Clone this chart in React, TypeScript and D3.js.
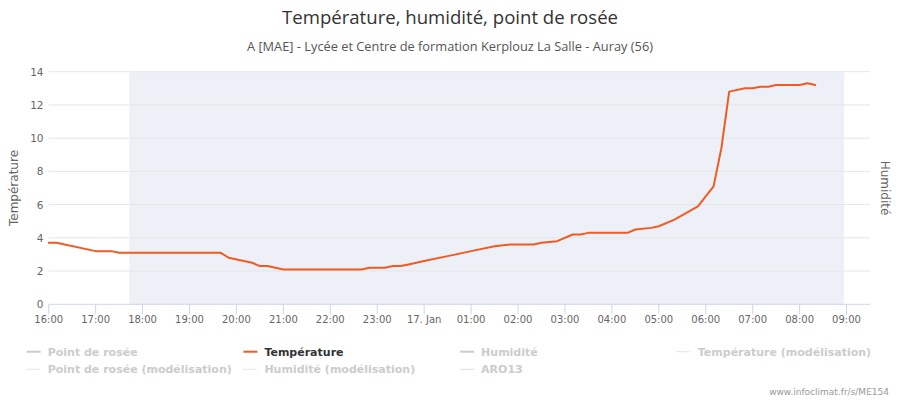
import React from "react";
import * as d3 from "d3";

const title = "Température, humidité, point de rosée";
const subtitle = "A [MAE] - Lycée et Centre de formation Kerplouz La Salle - Auray (56)";
const credit = "www.infoclimat.fr/s/ME154";

const times = [
  "16:00", "16:10", "17:00", "17:20", "17:30", "19:40", "19:50", "20:20", "20:30", "20:40",
  "21:00", "22:40", "22:50", "23:10", "23:20", "23:30", "23:40", "23:50", "00:00", "00:30",
  "01:00", "01:30", "01:50", "02:20", "02:30", "02:50", "03:10", "03:20", "03:30", "04:20",
  "04:30", "04:50", "05:00", "05:20", "05:50", "06:10", "06:20", "06:30", "06:50", "07:00",
  "07:10", "07:20", "07:30", "08:00", "08:10", "08:20",
];
const temperature = [
  3.7, 3.7, 3.2, 3.2, 3.1, 3.1, 2.8, 2.5, 2.3, 2.3,
  2.1, 2.1, 2.2, 2.2, 2.3, 2.3, 2.4, 2.5, 2.6, 2.9,
  3.2, 3.5, 3.6, 3.6, 3.7, 3.8, 4.2, 4.2, 4.3, 4.3,
  4.5, 4.6, 4.7, 5.1, 5.9, 7.1, 9.4, 12.8, 13.0, 13.0,
  13.1, 13.1, 13.2, 13.2, 13.3, 13.2,
];
const axisStart = "16:00";
const axisEnd = "09:30";
const nightStart = "17:43";
const nightEnd = "08:57";
const yTicks = [0, 2, 4, 6, 8, 10, 12, 14];

const legendItems = [
  { name: "Point de rosée", kind: "solid", visible: false },
  { name: "Température", kind: "solid", visible: true },
  { name: "Humidité", kind: "solid", visible: false },
  { name: "Température (modélisation)", kind: "dotted", visible: false },
  { name: "Point de rosée (modélisation)", kind: "dotted", visible: false },
  { name: "Humidité (modélisation)", kind: "dotted", visible: false },
  { name: "ARO13", kind: "thin", visible: false },
];

function toDate(s: string): Date {
  const [h, m] = s.split(":").map(Number);
  const day = h < 16 ? 17 : 16;
  return new Date(Date.UTC(2025, 0, day, h, m));
}

const W = 900;
const H = 400;
const left = 48.7;
const right = 870;
const top = 71.7;
const bottom = 304.3;
const LINE = "#f15a22";
const FONT = "'DejaVu Sans', sans-serif";

export default function App() {
  const x = d3.scaleUtc().domain([toDate(axisStart), toDate(axisEnd)]).range([left, right]);
  const y = d3.scaleLinear().domain([0, 14]).range([bottom, top]);
  const pts = times.map((t, i) => ({ t: toDate(t), v: temperature[i] }));
  const line = d3.line<{ t: Date; v: number }>().x((d) => x(d.t)).y((d) => y(d.v));
  const xTicks = x.ticks(d3.utcHour.every(1)!).filter((d) => x(d) <= right - 10);
  const fmt = (d: Date) => (d.getUTCHours() === 0 ? d3.utcFormat("%-d. %b")(d) : d3.utcFormat("%H:%M")(d));

  const colW = 216.7;
  return (
    <svg width={W} height={H} style={{ display: "block", position: "absolute", left: 0, top: 0 }}>
      <rect x={0} y={0} width={W} height={H} fill="#fff" />
      <text x={450} y={24} textAnchor="middle" fontFamily="'Open Sans', sans-serif" fontSize={18} fill="#333" textLength={336} lengthAdjust="spacingAndGlyphs">{title}</text>
      <text x={450} y={51} textAnchor="middle" fontFamily="'Open Sans', sans-serif" fontSize={12} fill="#555" textLength={406} lengthAdjust="spacingAndGlyphs">{subtitle}</text>

      <rect x={x(toDate(nightStart))} y={top} width={x(toDate(nightEnd)) - x(toDate(nightStart))} height={bottom - top} fill="#edf0f7" />

      {yTicks.filter((v) => v > 0).map((v) => (
        <line key={v} x1={left} x2={right} y1={y(v)} y2={y(v)} stroke="#e6e6e6" strokeWidth={1} />
      ))}
      {yTicks.map((v) => (
        <text key={"l" + v} x={43.5} y={y(v) + 4} textAnchor="end" fontFamily={FONT} fontSize={10.5} fill="#666">{v}</text>
      ))}

      <line x1={left} x2={right} y1={bottom} y2={bottom} stroke="#ccd6eb" strokeWidth={1} />
      {xTicks.map((d) => (
        <g key={d.getTime()}>
          <line x1={x(d)} x2={x(d)} y1={bottom} y2={bottom + 10} stroke="#ccd6eb" strokeWidth={1} />
          <text x={x(d)} y={323} textAnchor="middle" fontFamily={FONT} fontSize={10} fill="#666">{fmt(d)}</text>
        </g>
      ))}

      <text transform={`translate(18,188) rotate(-90)`} textAnchor="middle" fontFamily={FONT} fontSize={12} fill="#666">Température</text>
      <text transform={`translate(881,188) rotate(90)`} textAnchor="middle" fontFamily={FONT} fontSize={12} fill="#666">Humidité</text>

      <path d={line(pts) || ""} fill="none" stroke={LINE} strokeWidth={2} strokeLinejoin="round" strokeLinecap="round" />

      {legendItems.map((it, i) => {
        const col = i < 4 ? i : i - 4;
        const row = i < 4 ? 0 : 1;
        const lx = 26.7 + col * colW;
        const ly = row === 0 ? 351.7 : 369.3;
        const color = it.visible ? LINE : "#ccc";
        return (
          <g key={it.name}>
            {it.kind === "solid" && <line x1={lx} x2={lx + 14} y1={ly} y2={ly} stroke={color} strokeWidth={2} />}
            {it.kind === "dotted" && <line x1={lx} x2={lx + 14} y1={ly} y2={ly} stroke="#ccc" strokeWidth={1} strokeDasharray="1,1" />}
            {it.kind === "thin" && <line x1={lx} x2={lx + 14} y1={ly} y2={ly} stroke="#ddd" strokeWidth={1} />}
            <text x={lx + 21} y={ly + 4} fontFamily={FONT} fontSize={11} fontWeight="bold" fill={it.visible ? "#333" : "#ccc"}>{it.name}</text>
          </g>
        );
      })}

      <text x={889} y={395} textAnchor="end" fontFamily={FONT} fontSize={9} fill="#999">{credit}</text>
    </svg>
  );
}
